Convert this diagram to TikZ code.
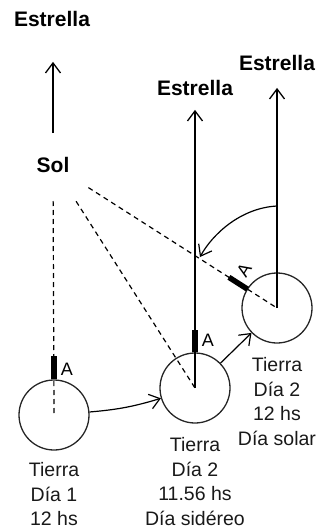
\documentclass[tikz,border=0pt]{standalone}
\usepackage{fontspec}
\setmainfont{Liberation Sans}
\usetikzlibrary{arrows.meta, positioning, calc}

\begin{document}
\begin{tikzpicture}[x=1pt, y=-1pt, >={Straight Barb[length=10pt, width=15pt]},
  tierra/.style={draw=black!85, circle, minimum size=70pt, inner sep=0pt, line width=1.3pt},
  rotulo/.style={font=\fontsize{21}{25}\selectfont\bfseries, inner sep=0pt},
  texto/.style={font=\fontsize{19.5}{24.5}\selectfont, align=center, inner sep=0pt, text=black!90},
  letra/.style={font=\fontsize{18}{20}\selectfont, inner sep=0pt},
  marca/.style={line width=5.5pt},
  rayo/.style={dash pattern=on 5pt off 4pt, line width=1.2pt},
  eje/.style={->, line width=1.3pt}]
  \useasboundingbox (0,0) rectangle (322,530);
  % etiquetas
  \node[rotulo] (sol) at (53,165) {Sol};
  \node[rotulo] (e1) at (52,19) {Estrella};
  \node[rotulo] (e2) at (195,88) {Estrella};
  \node[rotulo] (e3) at (277,63) {Estrella};
  % la Tierra en tres momentos
  \node[tierra] (t1) at (54,415) {};
  \node[tierra] (t2) at (195,388) {};
  \node[tierra] (t3) at (277,308) {};
  \node[texto, below=12pt of t1] (d1) {Tierra\\Día 1\\12 hs};
  \node[texto, below=14pt of t2] (d2) {Tierra\\Día 2\\11.56 hs\\Día sidéreo};
  \node[texto, below=14pt of t3] (d3) {Tierra\\Día 2\\12 hs\\Día solar};
  % rayos del Sol
  \draw[rayo, shorten <=36pt] (sol.center) -- (t1.center);
  \draw[rayo, shorten <=43pt] (sol.center) -- (t2.center);
  \draw[rayo, shorten <=42pt] (sol.center) -- (t3.center);
  % direcciones a la estrella
  \draw[eje, shorten <=24pt, shorten >=35pt] (sol.north) -- (sol.north |- e1.south);
  \draw[eje, shorten >=14pt] (t2.center) -- (t2.center |- e2.south);
  \draw[eje, shorten >=17pt] (t3.center) -- (t3.center |- e3.south);
  % punto A
  \draw[marca] (t1.north) -- ++(0,-23);
  \node[letra] (a1) at (67,369) {A};
  \draw[marca] (t2.north) -- ++(0,-22);
  \node[letra] (a2) at (208,340) {A};
  \draw[marca] ($(t3.center)!35pt!(sol.center)$) -- ($(t3.center)!57pt!(sol.center)$);
  \node[letra, rotate=58] (a3) at (244,270) {A};
  % movimiento
  \draw[->, line width=1.2pt] (t1) to[bend right=6] (t2);
  \draw[->, line width=1.2pt] (t2) -- (t3);
  \coordinate (g1) at ($(t3.center)+(0,-102)$);
  \coordinate (g2) at (200,257);
  \draw[->, line width=1.2pt] (g1) .. controls (240,208) and (212,235) .. (g2);
\end{tikzpicture}
\end{document}
